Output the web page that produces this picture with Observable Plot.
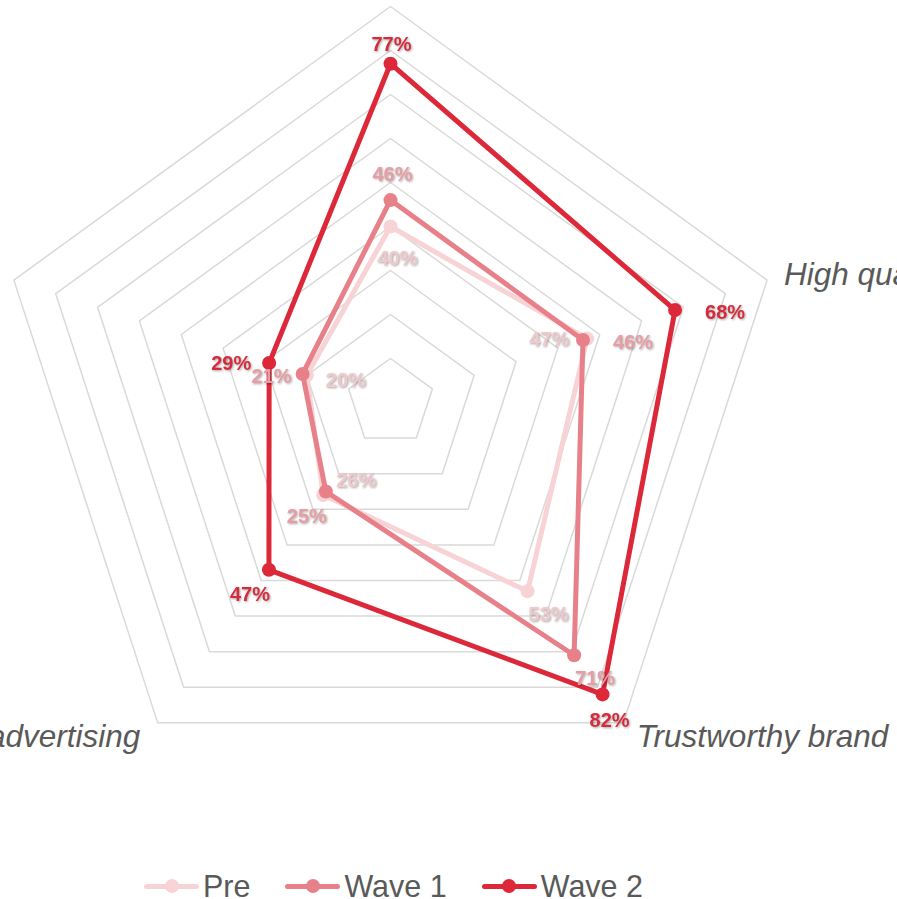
<!DOCTYPE html>
<html>
<head>
<meta charset="utf-8">
<script src="https://cdn.jsdelivr.net/npm/d3@7"></script>
<script src="https://cdn.jsdelivr.net/npm/@observablehq/plot@0.6"></script>
<style>
  html, body { margin: 0; padding: 0; background: #fff; overflow: hidden; }
  #chart svg { display: block; overflow: hidden; }
  #chart g[font-weight="bold"] { filter: drop-shadow(1px 1.5px 1px rgba(0,0,0,0.35)); }
  .legend { height: 44px; display: flex; justify-content: flex-start; align-items: center;
            font-family: "Liberation Sans", Arial, sans-serif; font-size: 30.5px; color: #595959;
            padding-left: 144px; margin-top: 18px; }
  .legend .item { display: flex; align-items: center; margin-right: 35px; }
  .legend .sw { position: relative; width: 55px; height: 16px; margin-right: 4px; }
  .legend .sw .ln { position: absolute; left: 0; right: 0; top: 5.5px; height: 5px; border-radius: 3px; }
  .legend .sw .dt { position: absolute; left: 20.5px; top: 1px; width: 14px; height: 14px; border-radius: 50%; }
</style>
</head>
<body>
<div id="chart"></div>
<div class="legend" id="legend"></div>
<script>
// ---- data ----
const categories = ["Innovative", "High quality", "Trustworthy brand", "Memorable advertising", "Good value"];
const seriesNames = ["Pre", "Wave 1", "Wave 2"];
const preValues   = [40, 47, 53, 26, 20];
const wave1Values = [46, 46, 71, 25, 21];
const wave2Values = [77, 68, 82, 47, 29];
const gridLevels  = [10, 20, 30, 40, 50, 60, 70, 80, 90];
const seriesColors = ["#F7D3D6", "#E8808A", "#DC2839"];
const labelColors  = ["#EFC9CC", "#E89DA4", "#D62B3B"];
// label placement per series, per category
const prePlacement   = ["bottomfar", "left", "bottomright", "topright", "rightnear"];
const wave1Placement = ["topfar", "right", "bottomright", "bottomleft", "leftnear"];
const wave2Placement = ["top", "right", "bottom", "bottomleft", "left"];

// ---- build ----
const seriesValues = [preValues, wave1Values, wave2Values];
const placements = [prePlacement, wave1Placement, wave2Placement];
const n = categories.length;
const ang = i => (i * 2 * Math.PI) / n;
const pt = (v, i) => ({ x: v * Math.sin(ang(i)), y: v * Math.cos(ang(i)) });

const gridData = gridLevels.flatMap(lv => d3.range(n + 1).map(k => ({ level: lv, ...pt(lv, k % n) })));

const seriesData = seriesNames.map((s, si) =>
  seriesValues[si].map((v, i) => ({ series: s, value: v, cat: categories[i], place: placements[si][i], ...pt(v, i) }))
);

const offsets = {
  top: [1, -19], topfar: [2, -26], bottom: [7, 26], bottomfar: [7, 32],
  right: [50, 3], rightnear: [39, 5], left: [-38, 1], leftnear: [-31, 3],
  bottomright: [21, 23], bottomleft: [-19, 25], topright: [33, -14]
};

const maxV = 90;
const R = 396, cx = 390, cy = 402;
const labelR = 95.2;
const axisLabels = categories.map((c, i) => {
  const p = pt(labelR, i);
  const s = Math.sin(ang(i));
  const anchor = s > 0.1 ? "start" : s < -0.1 ? "end" : "middle";
  const upper = p.y > 0;
  const dx = anchor === "start" && upper ? -5 : anchor === "end" && !upper ? -4 : 0;
  return { name: c, ...p, anchor, dx, dy: upper ? 2 : -4 };
});

const marks = [
  Plot.line(gridData, { x: "x", y: "y", z: "level", stroke: "#D9D9D9", strokeWidth: 1.5 })
];
seriesData.forEach((rows, si) => {
  const closed = [...rows, rows[0]];
  marks.push(Plot.line(closed, { x: "x", y: "y", stroke: seriesColors[si], strokeWidth: 5, strokeLinejoin: "round", strokeLinecap: "round" }));
  marks.push(Plot.dot(rows, { x: "x", y: "y", r: 7, fill: seriesColors[si], stroke: "none" }));
});
seriesData.forEach((rows, si) => {
  Object.entries(offsets).forEach(([key, [dx, dy]]) => {
    const sub = rows.filter(d => d.place === key);
    if (sub.length) marks.push(Plot.text(sub, {
      x: "x", y: "y", text: d => `${d.value}%`, dx, dy,
      fill: labelColors[si], fontSize: 20, fontWeight: "bold"
    }));
  });
});
axisLabels.forEach(d => {
  marks.push(Plot.text([d], {
    x: "x", y: "y", text: "name", textAnchor: d.anchor, dx: d.dx, dy: d.dy,
    fill: "#595959", fontSize: 31.5, fontStyle: "italic"
  }));
});

const chart = Plot.plot({
  width: 897, height: 846, margin: 0,
  x: { domain: [-maxV, maxV], range: [cx - R, cx + R], axis: null },
  y: { domain: [-maxV, maxV], range: [cy + R, cy - R], axis: null },
  style: { fontFamily: "'Liberation Sans', Arial, sans-serif", background: "#fff", overflow: "hidden" },
  marks
});
document.getElementById("chart").append(chart);

// legend
const lg = d3.select("#legend");
seriesNames.forEach((s, i) => {
  const it = lg.append("div").attr("class", "item");
  const sw = it.append("div").attr("class", "sw");
  sw.append("div").attr("class", "ln").style("background", seriesColors[i]);
  sw.append("div").attr("class", "dt").style("background", seriesColors[i]);
  it.append("span").text(s);
});
</script>
</body>
</html>
